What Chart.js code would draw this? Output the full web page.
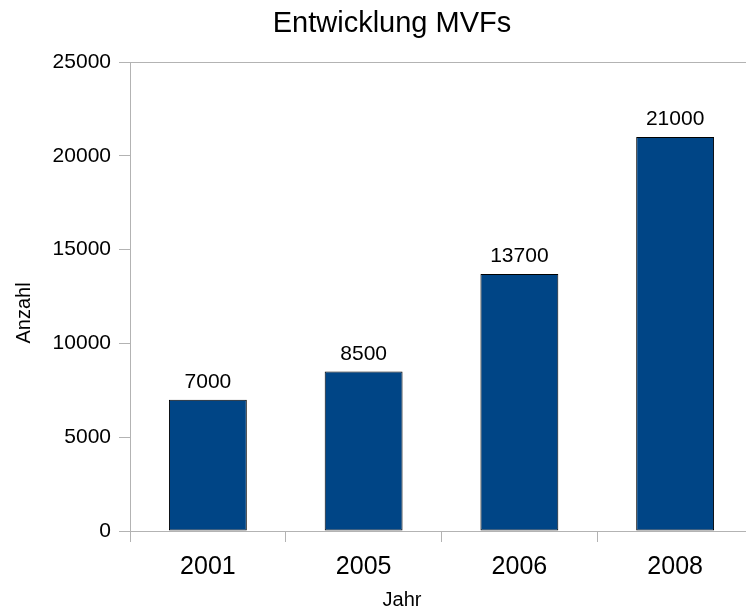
<!DOCTYPE html>
<html>
<head>
<meta charset="utf-8">
<script src="https://cdn.jsdelivr.net/npm/chart.js@4"></script>
<style>
  html, body { margin: 0; padding: 0; background: #fff; overflow: hidden; }
  /* Chart lebih lebar dari jendela, sisi kanan terpotong seperti aslinya */
  #wrap { width: 746px; height: 614px; overflow: hidden; }
  #box { width: 784px; height: 614px; }
</style>
</head>
<body>
<div id="wrap"><div id="box"><canvas id="mvfChart"></canvas></div></div>
<script>
// Data chart
const years = ['2001', '2005', '2006', '2008'];
const counts = [7000, 8500, 13700, 21000];
const yTicks = [0, 5000, 10000, 15000, 20000, 25000];

const FONT = '"Liberation Sans", Arial, sans-serif';
const AXIS_GRAY = '#b3b3b3';

// Teks judul dan label sumbu, plus nilai di atas batang
const textPlugin = {
    id: 'texts',
    afterDatasetsDraw(chart) {
        const ctx = chart.ctx;
        ctx.save();
        ctx.fillStyle = '#000';

        // label nilai
        ctx.font = '21px ' + FONT;
        ctx.textAlign = 'center';
        ctx.textBaseline = 'alphabetic';
        chart.getDatasetMeta(0).data.forEach((bar, i) => {
            ctx.fillText(String(counts[i]), bar.x, bar.y - 12);
        });

        // judul
        ctx.font = '29px ' + FONT;
        ctx.fillText('Entwicklung MVFs', 392, 32);

        // judul sumbu
        ctx.font = '20px ' + FONT;
        ctx.fillText('Jahr', 402, 606);
        ctx.translate(30, 313);
        ctx.rotate(-Math.PI / 2);
        ctx.fillText('Anzahl', 0, 0);
        ctx.restore();
    }
};

new Chart(document.getElementById('mvfChart'), {
    type: 'bar',
    data: {
        labels: years,
        datasets: [{
            data: counts,
            backgroundColor: '#004586',
            borderColor: '#000000',
            borderWidth: 1,
            borderSkipped: false,
            barPercentage: 0.5,
            categoryPercentage: 1
        }]
    },
    options: {
        responsive: true,
        maintainAspectRatio: false,
        animation: false,
        layout: { padding: { top: 62, right: 31, left: 0, bottom: 0 } },
        plugins: {
            legend: { display: false },
            tooltip: { enabled: false }
        },
        scales: {
            x: {
                afterFit: s => { s.height = 83; },
                grid: {
                    offset: true,
                    drawOnChartArea: false,
                    tickLength: 11,
                    tickColor: AXIS_GRAY
                },
                border: { color: AXIS_GRAY, width: 1 },
                ticks: {
                    color: '#000',
                    padding: 10,
                    font: { family: FONT, size: 25 }
                }
            },
            y: {
                min: yTicks[0],
                max: yTicks[yTicks.length - 1],
                afterFit: s => { s.width = 130; },
                afterBuildTicks: s => { s.ticks = yTicks.map(v => ({ value: v })); },
                grid: {
                    color: c => (c.tick && c.tick.value === 25000) ? AXIS_GRAY : 'transparent',
                    tickLength: 11,
                    tickColor: AXIS_GRAY
                },
                border: { color: AXIS_GRAY, width: 1 },
                ticks: {
                    color: '#000',
                    padding: 8,
                    font: { family: FONT, size: 21 },
                    callback: v => String(v)
                }
            }
        }
    },
    plugins: [textPlugin]
});
</script>
</body>
</html>
